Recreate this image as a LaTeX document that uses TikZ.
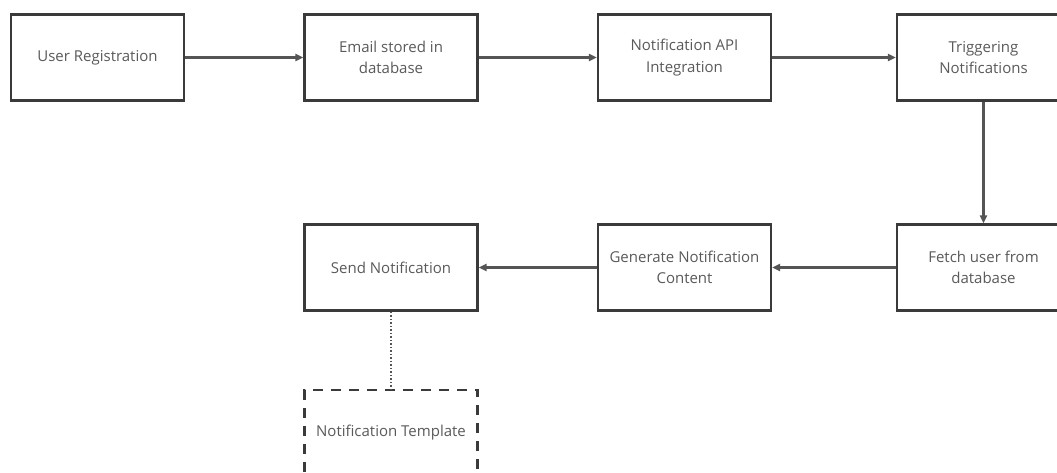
\documentclass[tikz,border=0pt]{standalone}
\usepackage{fontspec}
\setmainfont{Open Sans}
\usetikzlibrary{arrows.meta}
\definecolor{boxline}{HTML}{3A3A3A}
\definecolor{txt}{HTML}{5A5A5A}
\definecolor{arr}{HTML}{555555}
\tikzset{
  x=1pt,y=1pt,
  box/.style={draw=boxline,line width=2.2pt,minimum width=173pt,minimum height=86pt,
    align=center,text=txt,font=\fontsize{15}{21.5}\selectfont,inner sep=0pt,fill=white},
  tbox/.style={box,dash pattern=on 10pt off 8pt},
  link/.style={draw=arr,line width=2.1pt,-{Triangle[length=8pt,width=7pt]}},
}
\begin{document}
\begin{tikzpicture}
\useasboundingbox (0,0) rectangle (1057,-473);
\clip (0,0) rectangle (1057,-473);
\node[box] (ur) at (97.5,-57.5) {User Registration};
\node[box] (es) at (391,-57.5) {Email stored in\\database};
\node[box] (na) at (684.5,-57.5) {Notification API\\Integration};
\node[box] (tn) at (983.5,-57.5) {Triggering\\Notifications};
\node[box] (fu) at (983.5,-267.5) {Fetch user from\\database};
\node[box] (gn) at (684.5,-267.5) {Generate Notification\\Content};
\node[box] (sn) at (391,-267.5) {Send Notification};
\node[tbox] (nt) at (391,-433) {Notification Template};
\draw[link] (ur) -- (es);
\draw[link] (es) -- (na);
\draw[link] (na) -- (tn);
\draw[link] (tn) -- (fu);
\draw[link] (fu) -- (gn);
\draw[link] (gn) -- (sn);
\draw[draw=arr,line width=1.5pt,dotted] (sn) -- (nt);
\end{tikzpicture}
\end{document}
